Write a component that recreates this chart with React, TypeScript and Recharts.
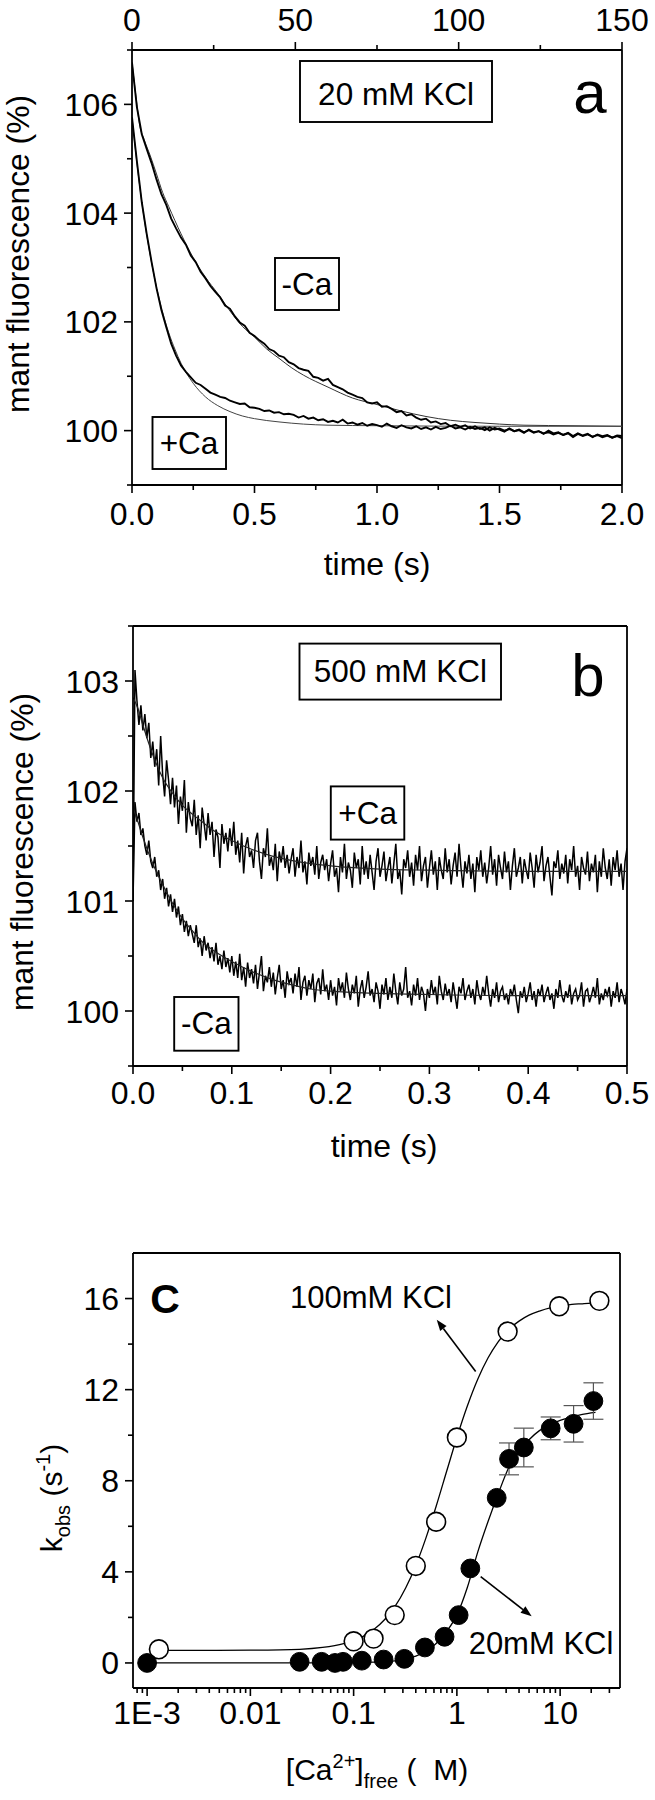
import React from "react";
import {
  ComposedChart,
  Line,
  Scatter,
  ErrorBar,
  XAxis,
  YAxis,
  ReferenceLine,
} from "recharts";

const FONT = "'Liberation Sans', Arial, Helvetica, sans-serif";
const AX = { stroke: "#000", strokeWidth: 1.8 };
const TICK_FONT = 32;

// ---- panel a: 20 mM KCl, traces sampled every 20 ms ----
const aStep = 0.02;
const aTopPerSec = 75; // top scale: 150 units over 2 s
const aMinusCa = [
  106.77, 105.95, 105.45, 105.18, 104.92, 104.62, 104.35, 104.15, 103.9, 103.72,
  103.55, 103.42, 103.22, 103.1, 102.92, 102.8, 102.66, 102.55, 102.45, 102.3,
  102.24, 102.1, 101.99, 101.93, 101.8, 101.74, 101.66, 101.6, 101.5, 101.46,
  101.38, 101.35, 101.26, 101.22, 101.15, 101.12, 101.1, 100.99, 100.97, 100.92,
  100.95, 100.84, 100.8, 100.76, 100.7, 100.66, 100.62, 100.6, 100.52, 100.5,
  100.52, 100.44, 100.45, 100.4, 100.34, 100.36, 100.28, 100.3, 100.24, 100.2,
  100.22, 100.15, 100.17, 100.12, 100.14, 100.08, 100.11, 100.07, 100.1, 100.04,
  100.08, 100.03, 100.06, 100.0, 100.05, 100.02, 99.98, 100.04, 99.99, 100.01,
  99.96, 100.02, 99.97, 99.99, 99.94, 100.0, 99.95, 99.97, 99.92, 99.96,
  99.9, 99.95, 99.91, 99.94, 99.88, 99.93, 99.9, 99.92, 99.87, 99.91,
  99.9,
];
const aPlusCa = [
  105.76, 104.95, 104.2, 103.62, 103.1, 102.62, 102.22, 101.9, 101.6, 101.38,
  101.2, 101.08, 100.98, 100.88, 100.84, 100.77, 100.7, 100.66, 100.62, 100.6,
  100.55, 100.52, 100.49, 100.5, 100.43, 100.42, 100.4, 100.36, 100.37, 100.33,
  100.34, 100.3, 100.31, 100.29, 100.24, 100.27, 100.22, 100.24, 100.19, 100.21,
  100.16, 100.18, 100.15, 100.2, 100.13, 100.15, 100.11, 100.14, 100.09, 100.12,
  100.1, 100.07, 100.13, 100.08, 100.05, 100.1, 100.06, 100.04, 100.08, 100.03,
  100.06, 100.02, 100.07, 100.03, 100.05, 100.09, 100.04, 100.06, 100.02, 100.07,
  100.03, 100.05, 100.01, 100.06, 100.02, 100.04, 100.0, 100.03, 99.99, 100.02,
  99.97, 100.01, 99.96, 99.99, 99.95, 99.97, 99.93, 99.96, 99.92, 99.95,
  99.88, 99.94, 99.9, 99.93, 99.89, 99.92, 99.88, 99.91, 99.87, 99.9,
  99.86,
];
const aFitMinusT = [0, 0.01, 0.02, 0.03, 0.05, 0.075, 0.1, 0.125, 0.15, 0.2, 0.25, 0.3, 0.35, 0.4, 0.45, 0.5, 0.55, 0.6, 0.65, 0.7, 0.8, 0.9, 1.0, 1.1, 1.2, 1.3, 1.4, 1.5, 1.6, 1.8, 2.0];
const aFitMinus = [106.77, 106.38, 106.0, 105.65, 105.35, 105.05, 104.72, 104.38, 104.12, 103.62, 103.18, 102.82, 102.52, 102.2, 101.92, 101.72, 101.5, 101.33, 101.16, 101.02, 100.8, 100.6, 100.48, 100.36, 100.26, 100.19, 100.15, 100.12, 100.1, 100.09, 100.08];
const aFitPlusT = [0, 0.025, 0.05, 0.075, 0.1, 0.125, 0.15, 0.175, 0.2, 0.25, 0.3, 0.35, 0.4, 0.45, 0.5, 0.6, 0.7, 0.8, 1.0, 1.5, 2.0];
const aFitPlus = [105.76, 104.73, 103.89, 103.21, 102.64, 102.18, 101.8, 101.5, 101.24, 100.87, 100.62, 100.46, 100.35, 100.27, 100.22, 100.16, 100.12, 100.1, 100.09, 100.08, 100.08];

const aXTicks = [0, 0.5, 1, 1.5, 2];
const aXMinor = [0.25, 0.75, 1.25, 1.75];
const aTopTicks = [0, 50, 100, 150];
const aTopMinor = [25, 75, 125];
const aYTicks = [100, 102, 104, 106];
const aYMinor = [99, 101, 103, 105, 107];

// ---- panel b: 500 mM KCl, traces sampled every 2 ms ----
const bStep = 0.002;
const bPlusCa = [
  101.0, 103.1, 102.82, 102.6, 102.78, 102.55, 102.7, 102.48, 102.62, 102.3,
  102.45, 102.22, 102.38, 102.05, 102.5, 102.15, 101.95, 102.28, 102.1, 101.88,
  102.12, 101.85, 102.05, 101.7, 101.95, 101.82, 102.1, 101.62, 101.9, 101.75,
  101.68, 101.92, 101.6, 101.78, 101.48, 101.85, 101.7, 101.55, 101.8, 101.6,
  101.72, 101.4, 101.65, 101.58, 101.3, 101.7, 101.52, 101.62, 101.45, 101.66,
  101.5, 101.72, 101.42, 101.55, 101.35, 101.62, 101.25, 101.5, 101.58, 101.4,
  101.46, 101.3, 101.55, 101.62, 101.36, 101.2, 101.48, 101.4, 101.66, 101.32,
  101.4, 101.28, 101.52, 101.18, 101.45, 101.35, 101.5, 101.3, 101.42, 101.25,
  101.38, 101.48, 101.22, 101.4, 101.3, 101.55, 101.26, 101.36, 101.15, 101.44,
  101.32, 101.4, 101.24, 101.5, 101.2, 101.35, 101.42, 101.28, 101.38, 101.18,
  101.34, 101.46, 101.22, 101.3, 101.08, 101.4, 101.26, 101.52, 101.2, 101.35,
  101.28, 101.12, 101.44, 101.3, 101.38, 101.15, 101.5, 101.24, 101.36, 101.2,
  101.42, 101.26, 101.1, 101.36, 101.48, 101.22, 101.32, 101.45, 101.18, 101.3,
  101.4, 101.16, 101.34, 101.52, 101.2, 101.28, 101.06, 101.38, 101.3, 101.46,
  101.22, 101.35, 101.14, 101.42, 101.28, 101.5, 101.18, 101.32, 101.4, 101.12,
  101.3, 101.46, 101.24, 101.36, 101.1, 101.4, 101.28, 101.2, 101.48, 101.26,
  101.38, 101.15, 101.32, 101.44, 101.22, 101.52, 101.3, 101.12, 101.36, 101.25,
  101.42, 101.2, 101.34, 101.08, 101.4, 101.28, 101.46, 101.22, 101.35, 101.16,
  101.3, 101.5, 101.24, 101.38, 101.14, 101.42, 101.3, 101.2, 101.45, 101.26,
  101.36, 101.1, 101.32, 101.48, 101.22, 101.3, 101.4, 101.16, 101.38, 101.28,
  101.2, 101.44, 101.3, 101.12, 101.42, 101.26, 101.35, 101.5, 101.18, 101.32,
  101.4, 101.22, 101.05, 101.36, 101.3, 101.46, 101.2, 101.34, 101.25, 101.42,
  101.16, 101.38, 101.28, 101.5, 101.22, 101.32, 101.1, 101.4, 101.3, 101.24,
  101.45, 101.18, 101.34, 101.26, 101.42, 101.08, 101.36, 101.22, 101.48, 101.3,
  101.2, 101.38, 101.14, 101.4, 101.28, 101.46, 101.22, 101.34, 101.1, 101.36,
  101.48,
];
const bMinusCa = [
  101.0, 101.9, 101.72, 101.8, 101.6, 101.66, 101.5, 101.42, 101.55, 101.36,
  101.3, 101.4, 101.22, 101.28, 101.1, 101.2, 101.02, 101.12, 100.95, 101.06,
  100.9, 101.02, 100.85, 100.95, 100.78, 100.88, 100.72, 100.82, 100.68, 100.78,
  100.7, 100.62, 100.78, 100.58, 100.66, 100.5, 100.68, 100.55, 100.62, 100.48,
  100.58, 100.45, 100.62, 100.42, 100.5, 100.38, 100.55, 100.4, 100.48, 100.35,
  100.5, 100.32, 100.45, 100.3, 100.52, 100.28, 100.4, 100.22, 100.44, 100.3,
  100.38, 100.25, 100.42, 100.2, 100.35, 100.5, 100.18, 100.32, 100.26, 100.4,
  100.22, 100.35, 100.15, 100.3, 100.42, 100.2, 100.28, 100.12, 100.36, 100.25,
  100.3, 100.16, 100.34, 100.22, 100.4, 100.1, 100.26, 100.32, 100.14, 100.28,
  100.2, 100.34, 100.08, 100.25, 100.3, 100.15, 100.38, 100.18, 100.24, 100.1,
  100.28, 100.14, 100.22, 100.05, 100.3, 100.18, 100.26, 100.12, 100.35, 100.2,
  100.1, 100.24, 100.16, 100.32, 100.04, 100.2, 100.28, 100.12, 100.22, 100.36,
  100.14, 100.2, 100.08, 100.26, 100.18, 100.02, 100.24, 100.15, 100.3, 100.1,
  100.22, 100.12, 100.34, 100.18, 100.06, 100.26, 100.14, 100.2, 100.4, 100.12,
  100.18, 100.05, 100.24, 100.14, 100.3, 100.1, 100.22, 100.16, 100.0, 100.2,
  100.12, 100.28, 100.15, 100.22, 100.06, 100.32, 100.18, 100.1, 100.25, 100.14,
  100.2, 100.08, 100.26, 100.14, 100.02, 100.22, 100.16, 100.3, 100.1, 100.18,
  100.24, 100.12, 100.2, 100.06, 100.28, 100.16, 100.1, 100.22, 100.14, 100.32,
  100.16, 100.04, 100.2, 100.12, 100.26, 100.08, 100.18, 100.22, 100.1, 100.16,
  100.06, 100.2, 100.14, 100.24, 100.1, 99.98, 100.18, 100.12, 100.22, 100.08,
  100.16, 100.26, 100.1, 100.18, 100.04, 100.2, 100.14, 100.24, 100.08, 100.16,
  100.22, 100.1, 100.16, 100.02, 100.2, 100.12, 100.28, 100.14, 100.08, 100.18,
  100.12, 100.24, 100.06, 100.16, 100.2, 100.1, 100.14, 100.26, 100.04, 100.18,
  100.2, 100.08, 100.14, 100.22, 100.12, 100.3, 100.06, 100.16, 100.1, 100.2,
  100.14, 100.22, 100.04, 100.18, 100.12, 100.26, 100.08, 100.2, 100.14, 100.06,
  100.2,
];
const bFitT = [0, 0.005, 0.01, 0.02, 0.03, 0.04, 0.05, 0.06, 0.07, 0.08, 0.1, 0.12, 0.14, 0.16, 0.18, 0.2, 0.25, 0.3, 0.4, 0.5];
const bFitPlus = [102.85, 102.75, 102.6, 102.33, 102.12, 101.98, 101.87, 101.79, 101.72, 101.65, 101.55, 101.47, 101.41, 101.37, 101.34, 101.32, 101.29, 101.28, 101.27, 101.27];
const bFitMinus = [101.85, 101.72, 101.58, 101.34, 101.15, 100.98, 100.84, 100.73, 100.63, 100.56, 100.45, 100.36, 100.29, 100.24, 100.2, 100.18, 100.16, 100.15, 100.14, 100.14];

const bXTicks = [0, 0.1, 0.2, 0.3, 0.4, 0.5];
const bXMinor = [0.05, 0.15, 0.25, 0.35, 0.45];
const bYTicks = [100, 101, 102, 103];
const bYMinor = [99.5, 100.5, 101.5, 102.5, 103.5];

// ---- panel c: kobs vs free Ca ----
const c100Ca = [0.0013, 0.1, 0.156, 0.25, 0.4, 0.63, 1.0, 3.1, 9.8, 24];
const c100K = [0.6, 0.95, 1.07, 2.1, 4.26, 6.2, 9.9, 14.55, 15.66, 15.9];
const c20Ca = [0.001, 0.03, 0.049, 0.066, 0.079, 0.12, 0.195, 0.31, 0.49, 0.76, 1.04, 1.35, 2.43, 3.2, 4.45, 8.1, 13.5, 21];
const c20K = [0.0, 0.05, 0.05, 0.0, 0.05, 0.1, 0.15, 0.18, 0.68, 1.15, 2.1, 4.15, 7.25, 8.96, 9.46, 10.3, 10.5, 11.5];
const c20Err = [0, 0, 0, 0, 0, 0, 0, 0, 0, 0, 0, 0, 0, 0.7, 0.85, 0.5, 0.8, 0.8];
const c100FitCa = [0.0013, 0.003, 0.01, 0.03, 0.05, 0.08, 0.1, 0.13, 0.16, 0.2, 0.25, 0.32, 0.4, 0.5, 0.63, 0.8, 1.0, 1.26, 1.6, 2.0, 2.5, 3.2, 4, 5, 6.3, 8, 10, 13, 16, 20, 24];
const c100FitK = [0.55, 0.55, 0.56, 0.6, 0.68, 0.85, 0.99, 1.22, 1.5, 1.91, 2.46, 3.3, 4.28, 5.47, 6.88, 8.45, 9.9, 11.27, 12.48, 13.39, 14.09, 14.66, 15.01, 15.27, 15.45, 15.59, 15.67, 15.74, 15.77, 15.8, 15.81];
const c20FitCa = [0.001, 0.01, 0.05, 0.1, 0.2, 0.3, 0.4, 0.5, 0.63, 0.8, 1.0, 1.26, 1.6, 2.0, 2.5, 3.2, 4, 5, 6.3, 8, 10, 13, 16, 22];
const c20FitK = [0, 0, 0, 0.02, 0.06, 0.15, 0.3, 0.5, 0.85, 1.4, 2.1, 3.3, 4.9, 6.2, 7.4, 8.6, 9.3, 9.8, 10.2, 10.45, 10.65, 10.8, 10.9, 11.0];

const cXTicks = [0.001, 0.01, 0.1, 1, 10];
const cXLabels = ["1E-3", "0.01", "0.1", "1", "10"];
const cXMinor = [
  0.0008, 0.0009, 0.002, 0.003, 0.004, 0.005, 0.006, 0.007, 0.008, 0.009,
  0.02, 0.03, 0.04, 0.05, 0.06, 0.07, 0.08, 0.09,
  0.2, 0.3, 0.4, 0.5, 0.6, 0.7, 0.8, 0.9,
  2, 3, 4, 5, 6, 7, 8, 9, 20, 30,
];
const cYTicks = [0, 4, 8, 12, 16];
const cYMinor = [2, 6, 10, 14];

const onGrid = (ys: number[], step: number) => ys.map((y, i) => ({ x: i * step, y }));
const toPts = (xs: number[], ys: number[]) => ys.map((y, i) => ({ x: xs[i], y }));
const near = (a: number, b: number) => Math.abs(a - b) <= Math.abs(b) * 1e-6 + 1e-12;

// tick lines drawn here so minor ticks can be shorter than majors
function axisTick(side: "left" | "bottom" | "top", majors: number[], fmt: (v: number) => string, gap: number) {
  return (props: any) => {
    const { x, y, payload } = props;
    const v = Number(payload.value);
    const major = majors.some((m) => near(v, m));
    const len = major ? 8 : 5;
    const s = { stroke: "#000", strokeWidth: 1.6 };
    const t = { fontSize: TICK_FONT, fontFamily: FONT, fill: "#000" };
    if (side === "left") {
      return (
        <g>
          <line x1={x - len} x2={x} y1={y} y2={y} {...s} />
          {major && <text x={x - gap} y={y + 11.5} textAnchor="end" {...t}>{fmt(v)}</text>}
        </g>
      );
    }
    if (side === "top") {
      return (
        <g>
          <line x1={x} x2={x} y1={y - len} y2={y} {...s} />
          {major && <text x={x} y={y - gap} textAnchor="middle" {...t}>{fmt(v)}</text>}
        </g>
      );
    }
    return (
      <g>
        <line x1={x} x2={x} y1={y} y2={y + len} {...s} />
        {major && <text x={x} y={y + gap} textAnchor="middle" {...t}>{fmt(v)}</text>}
      </g>
    );
  };
}

function Boxed({ x, y, w, h, text, tx, ty }: { x: number; y: number; w: number; h: number; text: string; tx: number; ty: number }) {
  return (
    <g>
      <rect x={x} y={y} width={w} height={h} fill="#fff" stroke="#000" strokeWidth={1.9} />
      <text x={tx} y={ty} textAnchor="middle" fontSize={31.5} fontFamily={FONT} fill="#000">{text}</text>
    </g>
  );
}

const fluoTitle = (bx: number, cy: number) => () => (
  <text
    transform={`translate(${bx},${cy}) rotate(-90)`}
    textAnchor="middle"
    fontSize={32}
    fontFamily={FONT}
    fill="#000"
    textLength={318}
    lengthAdjust="spacingAndGlyphs"
  >
    mant fluorescence (%)
  </text>
);

const timeTitle = (cx: number, by: number) => () => (
  <text x={cx} y={by} textAnchor="middle" fontSize={32} fontFamily={FONT} fill="#000">time (s)</text>
);

const arrowShape = (p: any) => {
  const { x1, y1, x2, y2 } = p;
  const a = Math.atan2(y2 - y1, x2 - x1);
  const c = Math.cos(a);
  const s = Math.sin(a);
  const L = 11;
  const W = 4;
  const bx = x2 - L * c;
  const by = y2 - L * s;
  return (
    <g>
      <line x1={x1} y1={y1} x2={bx} y2={by} stroke="#000" strokeWidth={1.6} />
      <polygon points={`${x2},${y2} ${bx - W * s},${by + W * c} ${bx + W * s},${by - W * c}`} fill="#000" />
    </g>
  );
};

const lineProps = { dot: false, activeDot: false, isAnimationActive: false } as const;

function PanelA() {
  return (
    <ComposedChart width={655} height={600} margin={{ top: 0, right: 33, bottom: 0, left: 0 }}>
      <XAxis
        xAxisId="top"
        orientation="top"
        dataKey="x"
        type="number"
        domain={[0, 150]}
        allowDataOverflow
        ticks={[...aTopTicks, ...aTopMinor]}
        interval={0}
        height={50}
        tickSize={0}
        tickMargin={0}
        tickLine={false}
        axisLine={AX}
        tick={axisTick("top", aTopTicks, (v) => String(v), 19.5)}
      />
      <XAxis
        dataKey="x"
        type="number"
        domain={[0, 2]}
        allowDataOverflow
        ticks={[...aXTicks, ...aXMinor]}
        interval={0}
        height={115}
        tickSize={0}
        tickMargin={0}
        tickLine={false}
        axisLine={AX}
        tick={axisTick("bottom", aXTicks, (v) => v.toFixed(1), 39.5)}
        label={timeTitle(377, 575)}
      />
      <YAxis
        dataKey="y"
        type="number"
        domain={[99, 107]}
        allowDataOverflow
        ticks={[...aYTicks, ...aYMinor]}
        interval={0}
        width={132}
        tickSize={0}
        tickMargin={0}
        tickLine={false}
        axisLine={AX}
        tick={axisTick("left", aYTicks, (v) => String(v), 14)}
        label={fluoTitle(29, 254)}
      />
      <ReferenceLine x={2} stroke="#000" strokeWidth={1.8} ifOverflow="visible" />
      {/* same -Ca trace on the top scale, invisible, so the top axis gets its data */}
      <Line xAxisId="top" data={onGrid(aMinusCa, aStep * aTopPerSec)} dataKey="y" stroke="none" {...lineProps} />
      <Line data={toPts(aFitMinusT, aFitMinus)} dataKey="y" type="monotone" stroke="#333" strokeWidth={1} {...lineProps} />
      <Line data={toPts(aFitPlusT, aFitPlus)} dataKey="y" type="monotone" stroke="#444" strokeWidth={1} {...lineProps} />
      <Line data={onGrid(aMinusCa, aStep)} dataKey="y" type="linear" stroke="#000" strokeWidth={1.9} {...lineProps} />
      <Line data={onGrid(aPlusCa, aStep)} dataKey="y" type="linear" stroke="#000" strokeWidth={1.9} {...lineProps} />
      <Boxed x={300} y={61} w={192} h={61} text="20 mM KCl" tx={396} ty={105} />
      <Boxed x={275} y={258} w={64} h={52} text="-Ca" tx={307} ty={294.5} />
      <Boxed x={152.5} y={417} w={73.5} h={52} text="+Ca" tx={189} ty={453.5} />
      <text x={590} y={113} textAnchor="middle" fontSize={60} fontFamily={FONT} fill="#000">a</text>
    </ComposedChart>
  );
}

function PanelB() {
  return (
    <ComposedChart width={655} height={590} margin={{ top: 46, right: 28, bottom: 0, left: 0 }}>
      <XAxis
        dataKey="x"
        type="number"
        domain={[0, 0.5]}
        allowDataOverflow
        ticks={[...bXTicks, ...bXMinor]}
        interval={0}
        height={104}
        tickSize={0}
        tickMargin={0}
        tickLine={false}
        axisLine={AX}
        tick={axisTick("bottom", bXTicks, (v) => v.toFixed(1), 38)}
        label={timeTitle(384, 577)}
      />
      <YAxis
        dataKey="y"
        type="number"
        domain={[99.5, 103.5]}
        allowDataOverflow
        ticks={[...bYTicks, ...bYMinor]}
        interval={0}
        width={133}
        tickSize={0}
        tickMargin={0}
        tickLine={false}
        axisLine={AX}
        tick={axisTick("left", bYTicks, (v) => String(v), 14)}
        label={fluoTitle(33, 272)}
      />
      <ReferenceLine x={0.5} stroke="#000" strokeWidth={1.8} ifOverflow="visible" />
      <ReferenceLine y={103.5} stroke="#000" strokeWidth={1.8} ifOverflow="visible" />
      <Line data={onGrid(bPlusCa, bStep)} dataKey="y" type="linear" stroke="#000" strokeWidth={1.5} {...lineProps} />
      <Line data={onGrid(bMinusCa, bStep)} dataKey="y" type="linear" stroke="#000" strokeWidth={1.5} {...lineProps} />
      <Line data={toPts(bFitT, bFitPlus)} dataKey="y" type="monotone" stroke="#222" strokeWidth={1.2} {...lineProps} />
      <Line data={toPts(bFitT, bFitMinus)} dataKey="y" type="monotone" stroke="#222" strokeWidth={1.2} {...lineProps} />
      <Boxed x={299.5} y={63.6} w={201.5} h={56} text="500 mM KCl" tx={400.4} ty={102} />
      <Boxed x={330.8} y={206.4} w={73.5} h={53.2} text="+Ca" tx={367.6} ty={243.5} />
      <Boxed x={174.2} y={417} w={64.3} h={53.7} text="-Ca" tx={206.4} ty={454} />
      <text x={588} y={116} textAnchor="middle" fontSize={60} fontFamily={FONT} fill="#000">b</text>
    </ComposedChart>
  );
}

const openDot = (p: any) => <circle cx={p.cx} cy={p.cy} r={9.4} fill="#fff" stroke="#000" strokeWidth={1.6} />;
const fullDot = (p: any) => <circle cx={p.cx} cy={p.cy} r={9.4} fill="#000" stroke="#000" strokeWidth={1} />;

function PanelC() {
  const filled = c20K.map((y, i) => ({ x: c20Ca[i], y, e: c20Err[i] }));
  return (
    <ComposedChart width={655} height={630} margin={{ top: 83, right: 35, bottom: 0, left: 0 }}>
      <XAxis
        dataKey="x"
        type="number"
        scale="log"
        domain={[0.00073, 38]}
        allowDataOverflow
        ticks={[...cXTicks, ...cXMinor]}
        interval={0}
        height={112}
        tickSize={0}
        tickMargin={0}
        tickLine={false}
        axisLine={AX}
        tick={axisTick("bottom", cXTicks, (v) => cXLabels[cXTicks.findIndex((m) => near(v, m))], 36)}
        label={() => (
          <text x={377} y={610} textAnchor="middle" fontSize={30} fontFamily={FONT} fill="#000" style={{ whiteSpace: "pre" }}>
            [Ca<tspan fontSize={20} dy={-12}>2+</tspan>
            <tspan dy={12}>]</tspan>
            <tspan fontSize={20} dy={8}>free</tspan>
            <tspan dy={-8}>{" (\u00a0\u00a0M)"}</tspan>
          </text>
        )}
      />
      <YAxis
        dataKey="y"
        type="number"
        domain={[-1.1, 18]}
        allowDataOverflow
        ticks={[...cYTicks, ...cYMinor]}
        interval={0}
        width={133}
        tickSize={0}
        tickMargin={0}
        tickLine={false}
        axisLine={AX}
        tick={axisTick("left", cYTicks, (v) => String(v), 14)}
        label={() => (
          <text transform="translate(62,328) rotate(-90)" textAnchor="middle" fontSize={30} fontFamily={FONT} fill="#000">
            k<tspan fontSize={20} dy={8}>obs</tspan>
            <tspan dy={-8}>{" (s"}</tspan>
            <tspan fontSize={20} dy={-12}>-1</tspan>
            <tspan dy={12}>)</tspan>
          </text>
        )}
      />
      <ReferenceLine x={38} stroke="#000" strokeWidth={1.8} ifOverflow="visible" />
      <ReferenceLine y={18} stroke="#000" strokeWidth={1.8} ifOverflow="visible" />
      <Line data={toPts(c100FitCa, c100FitK)} dataKey="y" type="monotone" stroke="#000" strokeWidth={1.3} {...lineProps} />
      <Line data={toPts(c20FitCa, c20FitK)} dataKey="y" type="monotone" stroke="#000" strokeWidth={1.3} {...lineProps} />
      <Scatter data={toPts(c100Ca, c100K)} dataKey="y" shape={openDot} isAnimationActive={false} />
      <Scatter data={filled} dataKey="y" shape={fullDot} isAnimationActive={false}>
        <ErrorBar dataKey="e" direction="y" width={10} stroke="#555" strokeWidth={1.2} />
      </Scatter>
      <ReferenceLine segment={[{ x: 1.52, y: 12.8 }, { x: 0.638, y: 15.07 }]} shape={arrowShape} ifOverflow="visible" />
      <ReferenceLine segment={[{ x: 1.7, y: 3.79 }, { x: 5.3, y: 2.05 }]} shape={arrowShape} ifOverflow="visible" />
      <text x={165} y={142.6} textAnchor="middle" fontSize={41} fontWeight="bold" fontFamily={FONT} fill="#000">C</text>
      <text x={371} y={138.3} textAnchor="middle" fontSize={31} fontFamily={FONT} fill="#000">100mM KCl</text>
      <text x={541} y={483.5} textAnchor="middle" fontSize={31} fontFamily={FONT} fill="#000">20mM KCl</text>
    </ComposedChart>
  );
}

export default function App() {
  return (
    <div style={{ position: "absolute", left: 0, top: 0, width: 655, height: 1800, background: "#fff", fontFamily: FONT }}>
      <div style={{ position: "absolute", left: 0, top: 0 }}>
        <PanelA />
      </div>
      <div style={{ position: "absolute", left: 0, top: 580 }}>
        <PanelB />
      </div>
      <div style={{ position: "absolute", left: 0, top: 1170 }}>
        <PanelC />
      </div>
    </div>
  );
}
